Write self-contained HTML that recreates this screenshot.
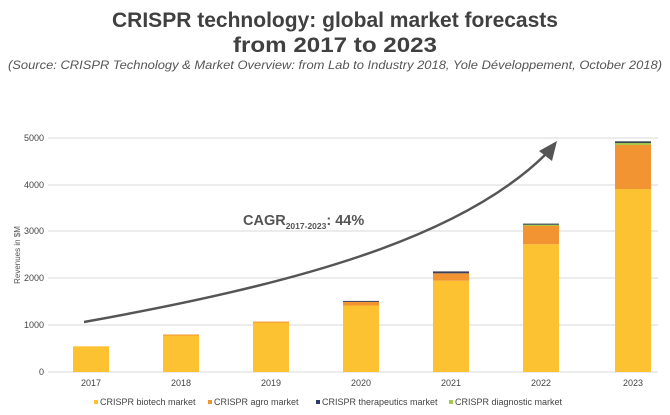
<!DOCTYPE html>
<html><head><meta charset="utf-8"><style>
html,body{margin:0;padding:0;background:#fff}
svg{display:block}
text{font-family:"Liberation Sans",sans-serif}
</style></head><body>
<svg width="670" height="415" viewBox="0 0 670 415" xmlns="http://www.w3.org/2000/svg">
<text x="335" y="27" text-anchor="middle" font-size="21" font-weight="bold" fill="#404040" textLength="446" lengthAdjust="spacingAndGlyphs">CRISPR technology: global market forecasts</text>
<text x="335" y="52" text-anchor="middle" font-size="21" font-weight="bold" fill="#404040" textLength="204" lengthAdjust="spacingAndGlyphs">from 2017 to 2023</text>
<text x="335" y="69" text-anchor="middle" font-size="11.5" font-style="italic" fill="#555" textLength="654" lengthAdjust="spacingAndGlyphs">(Source: CRISPR Technology &amp; Market Overview: from Lab to Industry 2018, Yole Développement, October 2018)</text>
<g stroke="#d9d9d9" stroke-width="1">
<line x1="48" y1="138" x2="658" y2="138"/><line x1="48" y1="185" x2="658" y2="185"/>
<line x1="48" y1="231" x2="658" y2="231"/><line x1="48" y1="278" x2="658" y2="278"/>
<line x1="48" y1="325" x2="658" y2="325"/><line x1="48" y1="372" x2="658" y2="372"/>
</g>
<g font-size="9" fill="#444" text-anchor="end">
<text x="44" y="141">5000</text><text x="44" y="188">4000</text><text x="44" y="234">3000</text>
<text x="44" y="281">2000</text><text x="44" y="328">1000</text><text x="44" y="375">0</text>
</g>
<text transform="translate(20,255) rotate(-90)" text-anchor="middle" font-size="8" fill="#555">Revenues in $M</text>
<g>
<rect x="73" y="346.3" width="36" height="25.7" fill="#fcc232"/>
<rect x="163" y="335" width="36" height="37" fill="#fcc232"/><rect x="163" y="334.5" width="36" height="1" fill="#f39433"/>
<rect x="253" y="322.4" width="36" height="49.6" fill="#fcc232"/><rect x="253" y="321.6" width="36" height="1" fill="#f39433"/>
<rect x="343" y="305.5" width="36" height="66.5" fill="#fcc232"/><rect x="343" y="301.8" width="36" height="3.7" fill="#f39433"/><rect x="343" y="300.9" width="36" height="1" fill="#3a3f5c"/>
<rect x="433" y="280.7" width="36" height="91.3" fill="#fcc232"/><rect x="433" y="273.3" width="36" height="7.4" fill="#f39433"/><rect x="433" y="271.4" width="36" height="1.9" fill="#3a3f5c"/>
<rect x="523" y="244.2" width="36" height="127.8" fill="#fcc232"/><rect x="523" y="226" width="36" height="18.2" fill="#f39433"/><rect x="523" y="224.8" width="36" height="1.2" fill="#a9c84a"/><rect x="523" y="223.6" width="36" height="1.2" fill="#3a4a4c"/>
<rect x="615" y="189" width="36" height="183" fill="#fcc232"/><rect x="615" y="145" width="36" height="44" fill="#f39433"/><rect x="615" y="143.1" width="36" height="1.9" fill="#a9c84a"/><rect x="615" y="141.3" width="36" height="1.8" fill="#3a4a4c"/>
</g>
<g font-size="9" fill="#444" text-anchor="middle">
<text x="91" y="386">2017</text><text x="181" y="386">2018</text><text x="271" y="386">2019</text>
<text x="361" y="386">2020</text><text x="451" y="386">2021</text><text x="541" y="386">2022</text><text x="633" y="386">2023</text>
</g>
<path d="M84,322 C290,285 460,240 547,153" fill="none" stroke="#555" stroke-width="2.5"/>
<polygon points="557,141 539,151 552,161" fill="#555"/>
<text x="243" y="225" font-size="14.5" font-weight="bold" fill="#555">CAGR<tspan font-size="8.5" dy="4">2017-2023</tspan><tspan dy="-4">: 44%</tspan></text>
<g font-size="9" fill="#444">
<rect x="94" y="400" width="4" height="4" fill="#fcc232"/><text x="100" y="405">CRISPR biotech market</text>
<rect x="208" y="400" width="4" height="4" fill="#f39433"/><text x="214" y="405">CRISPR agro market</text>
<rect x="316" y="400" width="4" height="4" fill="#2e3a6c"/><text x="322" y="405">CRISPR therapeutics market</text>
<rect x="449" y="400" width="4" height="4" fill="#a9c84a"/><text x="455" y="405">CRISPR diagnostic market</text>
</g>
</svg>
</body></html>
